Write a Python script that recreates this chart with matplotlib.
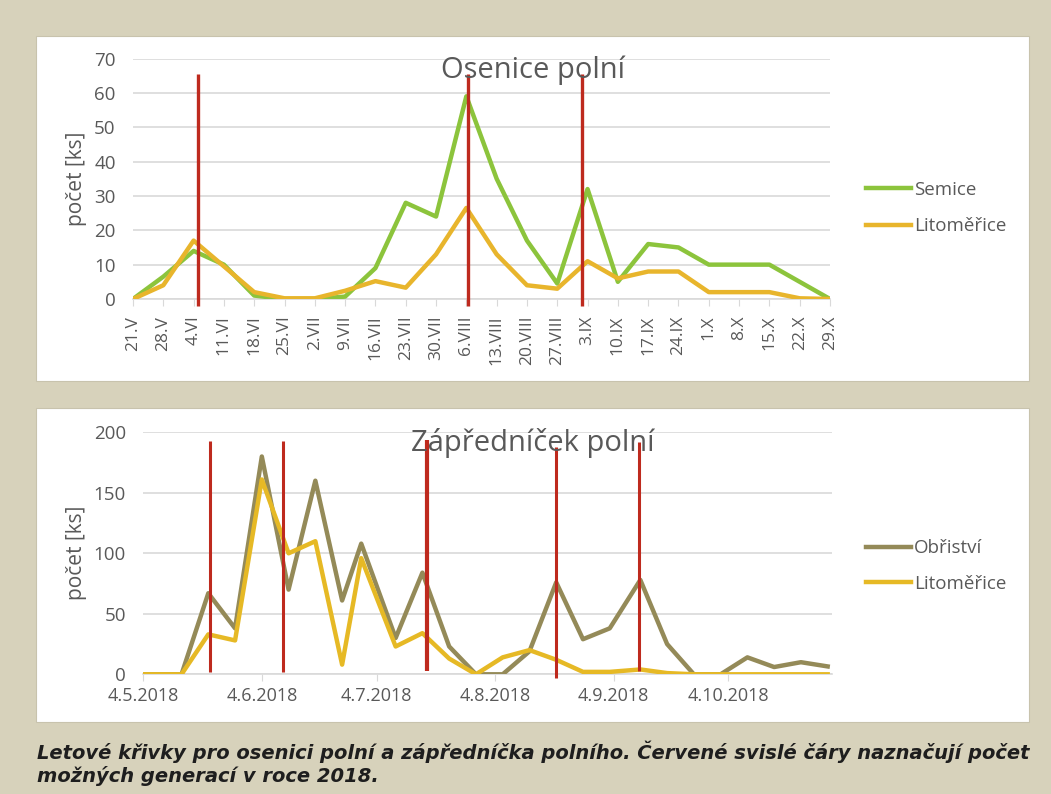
import matplotlib
matplotlib.use("Agg")
import matplotlib.pyplot as plt
import matplotlib.dates as mdates
import pandas as pd
from matplotlib.patches import Rectangle

# ---------------- data ----------------
weeks_top = ["21.V", "28.V", "4.VI", "11.VI", "18.VI", "25.VI", "2.VII", "9.VII",
             "16.VII", "23.VII", "30.VII", "6.VIII", "13.VIII", "20.VIII", "27.VIII",
             "3.IX", "10.IX", "17.IX", "24.IX", "1.X", "8.X", "15.X", "22.X", "29.X"]
semice = [0, 6.5, 14, 10, 1, 0, 0, 0.7, 9, 28, 24, 59, 35, 17, 4.5, 32, 5, 16, 15,
          10, 10, 10, 5, 0]
lito_top = [0, 4, 17, 9.5, 2, 0.2, 0.2, 2.4, 5.2, 3.3, 13, 26.5, 13, 4, 3, 11, 6,
            8, 8, 2, 2, 2, 0.2, 0]
gen_top = [2.15, 11.07, 14.83]          # red lines (category units)
gen_top_range = (-2, 65.5)

dates_bottom = ["2018-05-04", "2018-05-14", "2018-05-21", "2018-05-28", "2018-06-04",
                "2018-06-11", "2018-06-18", "2018-06-25", "2018-06-30", "2018-07-09",
                "2018-07-16", "2018-07-23", "2018-07-30", "2018-08-06", "2018-08-13",
                "2018-08-20", "2018-08-27", "2018-09-03", "2018-09-11", "2018-09-18",
                "2018-09-25", "2018-10-02", "2018-10-09", "2018-10-16", "2018-10-23",
                "2018-10-30"]
obristvi = [0, 0, 67, 38, 180, 70, 160, 61, 108, 30, 84, 23, 0, 0, 19, 76, 29, 38,
            78, 25, 0, 0, 14, 6, 10, 6.5]
lito_bottom = [0, 0, 33, 28, 161, 100, 110, 8, 96, 23, 34, 13, 0, 14, 20, 12, 2, 2,
               4, 1, 0, 0, 0, 0, 0, 0]
gen_bottom = ["2018-05-21 10:00", "2018-06-09 14:00", "2018-07-17 04:00",
              "2018-08-20 00:00", "2018-09-10 16:00"]
gen_bottom_top = [193, 193, 194, 188, 192]
gen_bottom_low = [2, 2, 3, -3, 3]
date_ticks = ["2018-05-04", "2018-06-04", "2018-07-04", "2018-08-04", "2018-09-04",
              "2018-10-04"]

# ---------------- style ----------------
BG = "#D7D2BB"
GREEN = "#8CC43C"
GOLD = "#E8B52C"
OLIVE = "#948A58"
YELLOW = "#E6B925"
RED = "#BE2A1E"
GRID = "#D9D9D9"
TXT = "#595959"
FONT = ["Open Sans", "DejaVu Sans"]

plt.rcParams["font.family"] = FONT

W, H = 1051, 794
fig = plt.figure(figsize=(W / 100, H / 100), dpi=100, facecolor=BG)

def fx(px):
    return px / W

def fy(py):
    return 1 - py / H

# white panels
for (x0, y0, x1, y1) in [(36, 36, 1029, 381), (36, 408, 1029, 722)]:
    fig.patches.append(Rectangle((fx(x0), fy(y1)), fx(x1) - fx(x0), fy(y0) - fy(y1),
                                 transform=fig.transFigure, facecolor="white",
                                 edgecolor="#C8C3AD", linewidth=0.8, zorder=-5))

def style_axes(ax):
    ax.set_zorder(2)
    ax.set_facecolor("none")
    for s in ["top", "right", "left"]:
        ax.spines[s].set_visible(False)
    ax.spines["bottom"].set_color(GRID)
    ax.spines["bottom"].set_linewidth(1.2)
    ax.grid(axis="y", color=GRID, linewidth=1.2)
    ax.set_axisbelow(True)
    ax.tick_params(axis="y", length=0, labelsize=13.5, labelcolor=TXT, pad=12.5)
    ax.tick_params(axis="x", length=5, color=GRID, labelsize=12.5, labelcolor=TXT)

# ---------------- top chart ----------------
ax1 = fig.add_axes([fx(133), fy(299), fx(830) - fx(133), fy(58.5) - fy(299)])
style_axes(ax1)
x_top = list(range(len(weeks_top)))
ax1.plot(x_top, semice, color=GREEN, lw=3.2, label="Semice", zorder=3)
ax1.plot(x_top, lito_top, color=GOLD, lw=3.2, label="Litoměřice", zorder=3)
ax1.vlines(gen_top, gen_top_range[0], gen_top_range[1], colors=RED, lw=2.4,
           zorder=4, clip_on=False)
ax1.set_xlim(0, len(weeks_top) - 1)
ax1.set_ylim(0, 70)
ax1.set_yticks(range(0, 71, 10))
ax1.set_xticks(x_top)
ax1.set_xticklabels(weeks_top, rotation=90)
ax1.tick_params(axis="x", pad=7)
ax1.set_ylabel("počet [ks]", fontsize=15, color=TXT, labelpad=5)
ax1.legend(loc="center left", bbox_to_anchor=(fx(866), fy(208)),
           bbox_transform=fig.transFigure, frameon=False, borderpad=0,
           borderaxespad=0, handlelength=2.4, handletextpad=0.15, labelspacing=1.0,
           prop={"size": 13.5}, labelcolor=TXT)
fig.text(fx(533), fy(70), "Osenice polní", ha="center", va="center",
         fontsize=21, color=TXT, zorder=6)

# ---------------- bottom chart ----------------
ax2 = fig.add_axes([fx(143.3), fy(674.3), fx(831.5) - fx(143.3), fy(432.3) - fy(674.3)])
style_axes(ax2)
xd = pd.to_datetime(dates_bottom)
ax2.plot(xd, obristvi, color=OLIVE, lw=3.2, label="Obřiství", zorder=3)
ax2.plot(xd, lito_bottom, color=YELLOW, lw=3.2, label="Litoměřice", zorder=3)
gb = pd.to_datetime(gen_bottom)
lws = [2.2, 2.2, 3.0, 2.2, 2.2]
for d, lo, hi, w in zip(gb, gen_bottom_low, gen_bottom_top, lws):
    ax2.vlines(d, lo, hi, colors=RED, lw=w, zorder=4, clip_on=False)
ax2.set_xlim(pd.Timestamp("2018-05-04"), pd.Timestamp("2018-10-31"))
ax2.set_ylim(0, 200)
ax2.set_yticks(range(0, 201, 50))
ax2.set_xticks(pd.to_datetime(date_ticks))
ax2.xaxis.set_major_formatter(mdates.DateFormatter("%-d.%-m.%Y"))
ax2.tick_params(axis="x", labelsize=13, pad=4)
ax2.set_ylabel("počet [ks]", fontsize=15, color=TXT, labelpad=5)
ax2.legend(loc="center left", bbox_to_anchor=(fx(866), fy(566)),
           bbox_transform=fig.transFigure, frameon=False, borderpad=0,
           borderaxespad=0, handlelength=2.4, handletextpad=0.15, labelspacing=0.95,
           prop={"size": 13.5}, labelcolor=TXT)
fig.text(fx(533), fy(443), "Zápředníček polní", ha="center", va="center",
         fontsize=21, color=TXT, zorder=6)

# ---------------- caption ----------------
fig.text(fx(37), fy(752), "Letové křivky pro osenici polní a zápředníčka polního. "
         "Červené svislé čáry naznačují počet", ha="left", va="center",
         fontsize=14, fontweight="bold", fontstyle="italic", family="DejaVu Sans",
         color="#1E1E1E")
fig.text(fx(37), fy(776), "možných generací v roce 2018.", ha="left", va="center",
         fontsize=14, fontweight="bold", fontstyle="italic", family="DejaVu Sans",
         color="#1E1E1E")

fig.savefig("out.png", dpi=100, facecolor=BG)
